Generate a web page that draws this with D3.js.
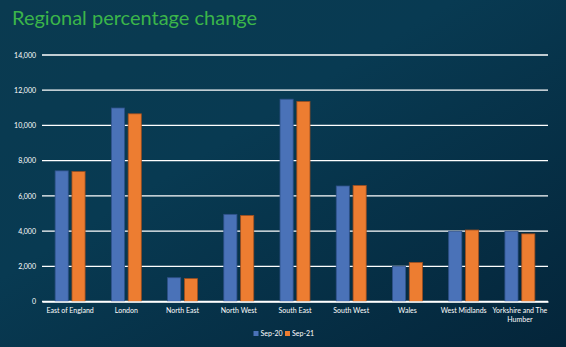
<!DOCTYPE html>
<html><head><meta charset="utf-8">
<script src="https://cdn.jsdelivr.net/npm/d3@7"></script>
<style>html,body{margin:0;padding:0;background:#06293d;}svg{display:block;}</style>
</head><body>
<script>
const categories = ["East of England","London","North East","North West","South East","South West","Wales","West Midlands","Yorkshire and The Humber"];
const sep20 = [7420, 10990, 1350, 4950, 11490, 6560, 2000, 3990, 3990];
const sep21 = [7380, 10660, 1300, 4890, 11360, 6590, 2220, 4060, 3840];
const seriesNames = ["Sep-20","Sep-21"];
const seriesColors = ["#4a72b8","#ed7d31"];
const seriesStroke = ["#2f5189","#9c4e20"];
const yTicks = [0,2000,4000,6000,8000,10000,12000,14000];

(function(){
const W=566,H=347;
const svg=d3.select("body").append("svg").attr("width",W).attr("height",H);
const defs=svg.append("defs");
const g1=defs.append("linearGradient").attr("id","bg").attr("x1","0").attr("y1","0").attr("x2","1").attr("y2","1");
g1.append("stop").attr("offset","0").attr("stop-color","#0a3a50");
g1.append("stop").attr("offset","0.4").attr("stop-color","#083a52");
g1.append("stop").attr("offset","1").attr("stop-color","#04253a");
svg.append("rect").attr("width",W).attr("height",H).attr("fill","url(#bg)");

svg.append("text").attr("x",12).attr("y",25).text("Regional percentage change")
  .attr("fill","#3bb54a").attr("font-family","Lato, 'Open Sans', sans-serif").attr("font-size",20);

const mL=42,mR=548,mT=55,mB=301.5;
const x=d3.scaleBand().domain(categories).range([mL,mR]).paddingInner(0).paddingOuter(0);
const x1=d3.scaleBand().domain(seriesNames).range([0,x.bandwidth()]).paddingInner(0.22).paddingOuter(0.78);
const y=d3.scaleLinear().domain([0,14000]).range([mB,mT]);

svg.append("g").selectAll("line").data(yTicks).join("line")
  .attr("x1",mL).attr("x2",mR).attr("y1",d=>y(d)).attr("y2",d=>y(d))
  .attr("stroke","#ffffff").attr("stroke-width",1.3);

const yAxis=d3.axisLeft(y).tickValues(yTicks).tickFormat(d3.format(",")).tickSize(0).tickPadding(6);
const ya=svg.append("g").attr("transform",`translate(${mL},0)`).call(yAxis);
ya.select(".domain").remove();
ya.selectAll("text").attr("fill","#ffffff").attr("font-family","Lato, 'Open Sans', sans-serif").attr("font-size",7);

const data=[sep20,sep21];
const gg=svg.append("g");
categories.forEach((c,i)=>{
  seriesNames.forEach((s,j)=>{
    gg.append("rect").attr("x",x(c)+x1(s)).attr("width",x1.bandwidth())
      .attr("y",y(data[j][i])).attr("height",mB-y(data[j][i]))
      .attr("fill",seriesColors[j]).attr("stroke",seriesStroke[j]).attr("stroke-width",0.8);
  });
});

const xAxis=d3.axisBottom(x).tickSize(0).tickPadding(7);
const xa=svg.append("g").attr("transform",`translate(0,${mB})`).call(xAxis);
xa.select(".domain").attr("stroke","#ffffff").attr("stroke-width",1.3);
xa.selectAll("text").attr("fill","#ffffff").attr("font-family","Lato, 'Open Sans', sans-serif").attr("font-size",7)
  .each(function(d){
    if(d==="Yorkshire and The Humber"){
      const t=d3.select(this); t.text(null);
      t.append("tspan").attr("x",0).attr("dy","0.71em").text("Yorkshire and The");
      t.append("tspan").attr("x",0).attr("dy","1.25em").text("Humber");
      t.attr("dy",null);
    }
  });

const leg=svg.append("g");
const legX=[253.5,285];
seriesNames.forEach((s,j)=>{
  leg.append("rect").attr("x",legX[j]).attr("y",331).attr("width",5).attr("height",5).attr("fill",seriesColors[j]);
  leg.append("text").attr("x",legX[j]+7).attr("y",336).text(s).attr("fill","#ffffff")
    .attr("font-family","Lato, 'Open Sans', sans-serif").attr("font-size",7);
});
})();
</script>
</body></html>
